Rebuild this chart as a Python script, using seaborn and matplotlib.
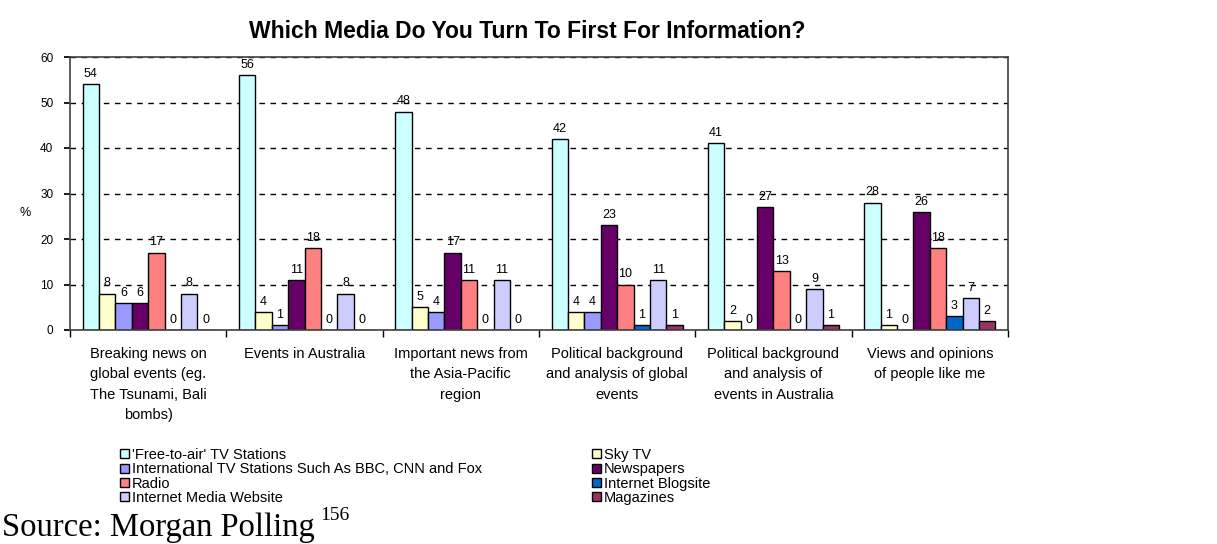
import matplotlib
matplotlib.use("Agg")
import matplotlib.pyplot as plt
import seaborn as sns
import pandas as pd
import numpy as np

categories = [
    "Breaking news on\nglobal events (eg.\nThe Tsunami, Bali\nbombs)",
    "Events in Australia",
    "Important news from\nthe Asia-Pacific\nregion",
    "Political background\nand analysis of global\nevents",
    "Political background\nand analysis of\nevents in Australia",
    "Views and opinions\nof people like me",
]
series = ["'Free-to-air' TV Stations", "Sky TV",
          "International TV Stations Such As BBC, CNN and Fox", "Newspapers",
          "Radio", "Internet Blogsite", "Internet Media Website", "Magazines"]
free_to_air = [54, 56, 48, 42, 41, 28]
sky_tv = [8, 4, 5, 4, 2, 1]
international_tv = [6, 1, 4, 4, 0, 0]
newspapers = [6, 11, 17, 23, 27, 26]
radio = [17, 18, 11, 10, 13, 18]
blogsite = [0, 0, 0, 1, 0, 3]
media_website = [8, 8, 11, 11, 9, 7]
magazines = [0, 0, 0, 1, 1, 2]
colors = ["#CCFFFF", "#FFFFCC", "#9999FF", "#660066",
          "#FF8080", "#0066CC", "#CCCCFF", "#993366"]
yticks = [0, 10, 20, 30, 40, 50, 60]

values = [free_to_air, sky_tv, international_tv, newspapers,
          radio, blogsite, media_website, magazines]
rows = []
for s, vals in zip(series, values):
    for c, v in zip(categories, vals):
        rows.append({"category": c, "series": s, "value": v})
df = pd.DataFrame(rows)

sns.set_theme(style="white")
plt.rcParams['font.family'] = ['Liberation Sans', 'DejaVu Sans']
plt.rcParams['text.color'] = 'black'
plt.rcParams['xtick.color'] = 'black'
plt.rcParams['ytick.color'] = 'black'
plt.rcParams['axes.labelcolor'] = 'black'

fig = plt.figure(figsize=(12.17, 5.44), dpi=100)
ax = fig.add_axes([70/1217, 1-330/544, (1008-70)/1217, (330-57)/544])

sns.barplot(data=df, x="category", y="value", hue="series",
            order=categories, hue_order=series,
            palette=dict(zip(series, colors)), saturation=1, width=0.84,
            edgecolor="black", linewidth=1, ax=ax, legend=True)

for cont in ax.containers:
    ax.bar_label(cont, fmt="%g", padding=3, fontsize=9, color="black")

ax.set_ylim(0, 60)
ax.set_yticks(yticks)
ax.set_yticklabels([str(t) for t in yticks], fontsize=8.5)
ax.set_xlim(-0.5, len(categories) - 0.5)
ax.set_axisbelow(True)
ax.yaxis.grid(True, color="black", linestyle=(0, (4, 4)), linewidth=1)
ax.xaxis.grid(False)
for sp in ax.spines.values():
    sp.set_color("#404040")
    sp.set_linewidth(1.2)
ax.set_xlabel("")
ax.set_ylabel("")
ax.tick_params(axis="x", which="major", length=0, pad=12, labelsize=10.5)
ax.set_xticks(np.arange(-0.5, len(categories)), minor=True)
ax.tick_params(axis="x", which="minor", length=5, direction="out", color="black", bottom=True)
ax.tick_params(axis="y", which="major", length=4, direction="out", color="black", left=True, pad=8)
for lab in ax.get_xticklabels():
    lab.set_linespacing(1.6)
    lab.set_ha("center")

fig.text(25/1217, 1-213/544, "%", fontsize=9, ha="center", va="center")
fig.text(527/1217, 1-31/544, "Which Media Do You Turn To First For Information?",
         fontsize=16.5, fontweight="bold", ha="center", va="center")

handles, labels = ax.get_legend_handles_labels()
ax.get_legend().remove()
h = dict(zip(labels, handles))
col1 = [series[0], series[2], series[4], series[6]]
col2 = [series[1], series[3], series[5], series[7]]
for col, x in ((col1, 120/1217), (col2, 592/1217)):
    fig.legend([h[l] for l in col], col, loc="upper left",
               bbox_to_anchor=(x, 1-448/544), frameon=False, fontsize=10.5,
               handlelength=0.6, handleheight=0.6, handletextpad=0.2,
               labelspacing=0.02, borderpad=0, borderaxespad=0)

fig.text(2/1217, 1-536/544, "Source: Morgan Polling", fontsize=23.5,
         family="Liberation Serif", ha="left", va="baseline")
fig.text(320/1217, 1-520/544, "156", fontsize=14,
         family="Liberation Serif", ha="left", va="baseline")

fig.savefig("out.png", dpi=100)
